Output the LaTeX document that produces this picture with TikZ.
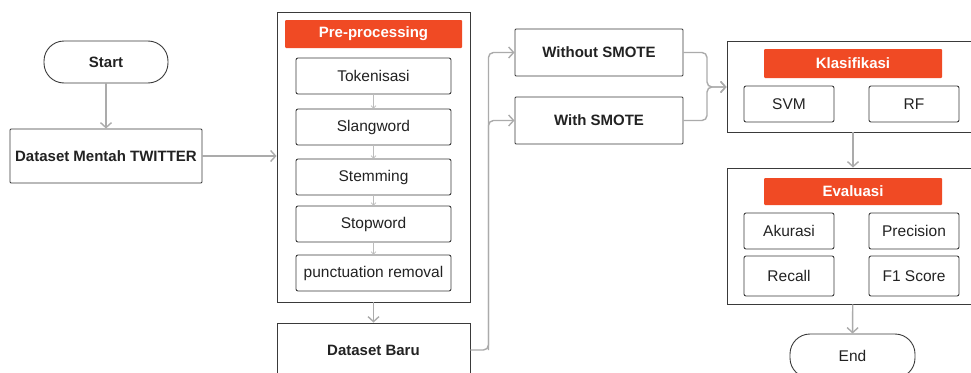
\documentclass[tikz,border=0pt]{standalone}
\usepackage{fontspec}
\setmainfont{Liberation Sans}
\usetikzlibrary{arrows.meta}
\definecolor{hdred}{HTML}{F04A24}
\definecolor{edge}{HTML}{3A3A3A}
\definecolor{flowgray}{HTML}{ABABAB}
\definecolor{txt}{HTML}{222222}

\begin{document}
\begin{tikzpicture}[x=1pt,y=-1pt]
\tikzstyle{box}=[draw=edge,line width=0.9pt,rounded corners=2pt,inner sep=0pt,text=txt,font=\fontsize{15.5}{18}\selectfont]
\tikzstyle{bold box}=[box,font=\fontsize{15}{18}\selectfont\bfseries]
\tikzstyle{group}=[draw=edge,line width=0.9pt,inner sep=0pt]
\tikzstyle{terminal}=[box,rounded corners=20pt]
\tikzstyle{header}=[fill=hdred,text=white,inner sep=0pt,rounded corners=1pt,font=\fontsize{15}{18}\selectfont\bfseries]
\tikzstyle{flow}=[draw=flowgray,line width=1.4pt,-{Straight Barb[length=5pt,width=11pt]}]
\tikzstyle{thin flow}=[draw=flowgray!80,line width=0.6pt,-{Straight Barb[length=2.5pt,width=5pt]}]
\useasboundingbox (0,0) rectangle (971,372);

% left column
\node[terminal,bold box,rounded corners=20pt,minimum width=124pt,minimum height=42pt] (start) at (106,62) {Start};
\node[bold box,rounded corners=1pt,minimum width=192pt,minimum height=54pt] (raw) at (106,156) {Dataset Mentah TWITTER};

% pre-processing
\node[group,minimum width=193pt,minimum height=290pt] (prep) at (373.5,157) {};
\node[header,minimum width=177pt,minimum height=28pt] (prepH) at (373.5,34) {Pre-processing};
\node[box,minimum width=155pt,minimum height=36pt] (tok) at (373.5,76) {Tokenisasi};
\node[box,minimum width=155pt,minimum height=36pt] (slang) at (373.5,127) {Slangword};
\node[box,minimum width=155pt,minimum height=36pt] (stem) at (373.5,177) {Stemming};
\node[box,minimum width=155pt,minimum height=36pt] (stop) at (373.5,224) {Stopword};
\node[box,minimum width=155pt,minimum height=36pt] (punct) at (373.5,273) {punctuation removal};
\node[bold box,rounded corners=0pt,minimum width=193pt,minimum height=54pt] (baru) at (373.5,350) {Dataset Baru};

% smote
\node[bold box,rounded corners=1pt,minimum width=168pt,minimum height=47pt] (wo) at (599,52.5) {Without SMOTE};
\node[bold box,rounded corners=1pt,minimum width=168pt,minimum height=47pt] (with) at (599,120.5) {With SMOTE};

% klasifikasi
\node[group,minimum width=252pt,minimum height=91pt] (klas) at (853,86.5) {};
\node[header,minimum width=178pt,minimum height=29pt] (klasH) at (853,63.5) {Klasifikasi};
\node[box,minimum width=90pt,minimum height=36pt] (svm) at (789,104) {SVM};
\node[box,minimum width=90pt,minimum height=36pt] (rf) at (914,104) {RF};

% evaluasi
\node[group,minimum width=252pt,minimum height=136pt] (eval) at (853,236) {};
\node[header,minimum width=178pt,minimum height=27pt] (evalH) at (853,191.5) {Evaluasi};
\node[box,minimum width=90pt,minimum height=36pt] (acc) at (789,231) {Akurasi};
\node[box,minimum width=90pt,minimum height=36pt] (prec) at (914,231) {Precision};
\node[box,minimum width=90pt,minimum height=40pt] (rec) at (789,276) {Recall};
\node[box,minimum width=90pt,minimum height=40pt] (fone) at (914,276) {F1 Score};
\node[terminal,minimum width=125pt,minimum height=44pt] (end) at (852.5,356) {End};

% connectors
\draw[flow] (start) -- (raw);
\draw[flow] (raw.east) -- (raw.east -| prep.west);
\draw[thin flow] (tok) -- (slang);
\draw[thin flow] (slang) -- (stem);
\draw[thin flow] (stem) -- (stop);
\draw[thin flow] (stop) -- (punct);
\draw[flow] (prep) -- (baru);
\coordinate (fork) at ([xshift=18pt]baru.east);
\draw[flow,rounded corners=5pt] (baru.east) -- (fork) |- (wo.west);
\draw[flow,rounded corners=5pt] (fork) |- (with.west);
\coordinate (merge) at (707,87);
\draw[flow,rounded corners=5pt] (wo.east) -| (merge) -- (klas.west |- merge);
\draw[flow,rounded corners=5pt] (with.east) -| (merge) -- (klas.west |- merge);
\draw[flow] (klas) -- (eval);
\draw[flow] (eval) -- (end);
\end{tikzpicture}
\end{document}
